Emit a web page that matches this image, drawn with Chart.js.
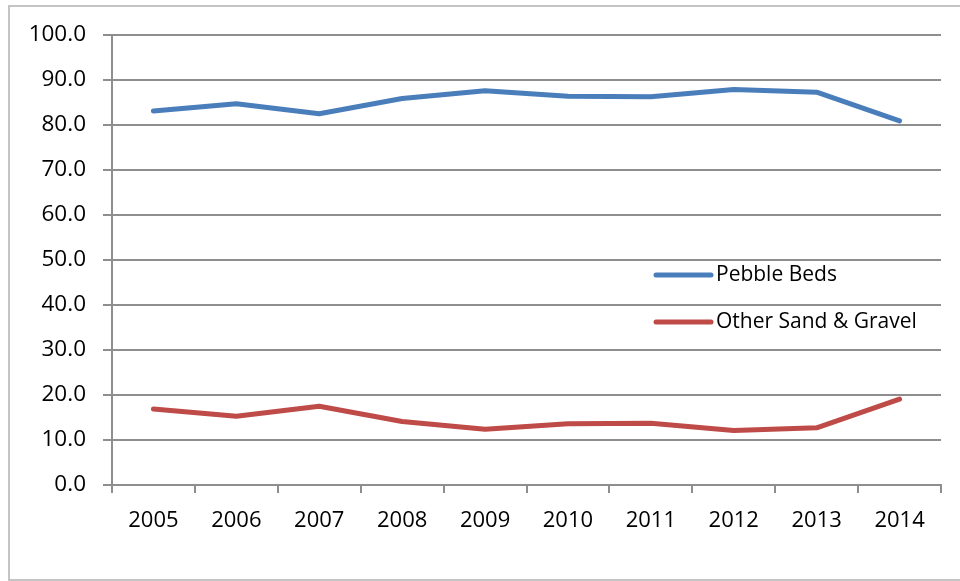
<!DOCTYPE html>
<html>
<head>
<meta charset="utf-8">
<script src="https://cdn.jsdelivr.net/npm/chart.js@4.4.1/dist/chart.umd.min.js"></script>
<style>
  html, body { margin: 0; padding: 0; background: #fff; overflow: hidden; }
  .frame { position: absolute; left: 8px; top: 5px; width: 980px; height: 572px; border: 2px solid #c4c4c4; }
  .wrap { position: absolute; left: 0; top: 0; width: 960px; height: 581px; }
</style>
</head>
<body>
<div class="frame"></div>
<div class="wrap"><canvas id="chart"></canvas></div>
<script>
const years = ['2005', '2006', '2007', '2008', '2009', '2010', '2011', '2012', '2013', '2014'];
const pebbleBeds = [83.1, 84.7, 82.5, 85.9, 87.6, 86.4, 86.3, 87.9, 87.3, 80.9];
const otherSandGravel = [16.9, 15.3, 17.5, 14.1, 12.4, 13.6, 13.7, 12.1, 12.7, 19.1];
const yTicks = [0, 10, 20, 30, 40, 50, 60, 70, 80, 90, 100];

const BLUE = '#4A7EBB';
const RED = '#BE4B48';
const GRID = '#8e8e8e';
const FONT = "'Open Sans', sans-serif";

// legend drawn inside the plot area, like the original
const insideLegend = {
  id: 'insideLegend',
  afterDatasetsDraw(chart) {
    const ctx = chart.ctx;
    const x0 = 656, x1 = 711, tx = 716;
    const rows = [275, 322];
    ctx.save();
    chart.data.datasets.forEach((ds, i) => {
      const y = rows[i];
      ctx.strokeStyle = ds.borderColor;
      ctx.lineWidth = 5;
      ctx.lineCap = 'round';
      ctx.beginPath();
      ctx.moveTo(x0, y);
      ctx.lineTo(x1, y);
      ctx.stroke();
      ctx.fillStyle = '#000';
      ctx.font = '21px ' + FONT;
      ctx.textBaseline = 'middle';
      ctx.textAlign = 'left';
      ctx.fillText(ds.label, tx, y);
    });
    ctx.restore();
  }
};

new Chart(document.getElementById('chart'), {
  type: 'line',
  data: {
    labels: years,
    datasets: [
      {
        label: 'Pebble Beds',
        data: pebbleBeds,
        borderColor: BLUE,
        borderWidth: 5,
        pointRadius: 0,
        tension: 0,
        borderCapStyle: 'round',
        borderJoinStyle: 'round'
      },
      {
        label: 'Other Sand & Gravel',
        data: otherSandGravel,
        borderColor: RED,
        borderWidth: 5,
        pointRadius: 0,
        tension: 0,
        borderCapStyle: 'round',
        borderJoinStyle: 'round'
      }
    ]
  },
  options: {
    responsive: true,
    maintainAspectRatio: false,
    animation: false,
    devicePixelRatio: 1,
    layout: { padding: { top: 35, right: 19, bottom: 0, left: 0 } },
    plugins: {
      legend: { display: false },
      tooltip: { enabled: false }
    },
    scales: {
      x: {
        offset: true,
        grid: {
          offset: true,
          drawOnChartArea: false,
          drawTicks: true,
          tickLength: 8,
          color: GRID,
          lineWidth: 2
        },
        border: { color: GRID, width: 2 },
        ticks: {
          color: '#000',
          font: { family: FONT, size: 22 },
          padding: 15,
          maxRotation: 0
        },
        afterFit(scale) { scale.height = 96; }
      },
      y: {
        min: 0,
        max: 100,
        afterBuildTicks(scale) { scale.ticks = yTicks.map(v => ({ value: v })); },
        grid: {
          color: GRID,
          lineWidth: 2,
          tickLength: 9
        },
        border: { color: GRID, width: 2 },
        ticks: {
          color: '#000',
          font: { family: FONT, size: 22.5 },
          padding: 17,
          callback: v => Number(v).toFixed(1)
        },
        afterFit(scale) { scale.width = 112; }
      }
    }
  },
  plugins: [insideLegend]
});
</script>
</body>
</html>
